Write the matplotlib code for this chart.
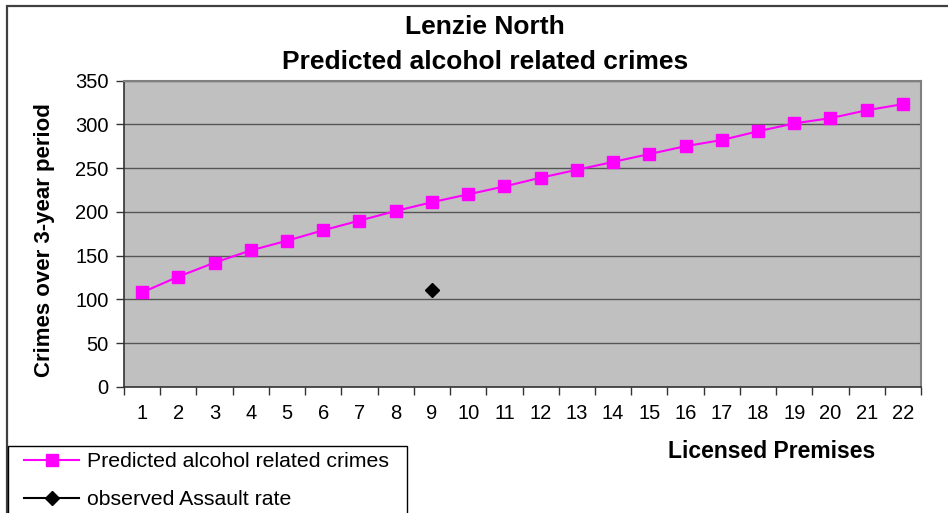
import matplotlib.pyplot as plt
from matplotlib.patches import Rectangle
import numpy as np

premises = list(range(1, 23))
predicted = [108, 126, 142, 156, 167, 179, 190, 201, 211, 220, 229, 239,
             248, 257, 266, 275, 282, 292, 301, 307, 316, 323]
observed_x = [9]
observed_y = [111]

plt.rcParams['font.family'] = ['Liberation Sans', 'DejaVu Sans']

fig = plt.figure(figsize=(9.48, 5.13), dpi=100)
ax = fig.add_axes([124 / 948, 1 - 387 / 513, 797 / 948, 306.5 / 513])

# outer chart frame (runs off right and bottom edges)
fig.patches.append(Rectangle((7 / 948, -0.1), 1.1, 1 - 6 / 513 + 0.1,
                             transform=fig.transFigure, fill=False,
                             edgecolor='#404040', linewidth=1.6))
# legend box (also runs off the bottom)
fig.patches.append(Rectangle((8 / 948, -0.1), 399 / 948, 0.1 + (513 - 446) / 513,
                             transform=fig.transFigure, fill=False,
                             edgecolor='black', linewidth=1.0))

ax.set_facecolor('#C0C0C0')
ax.plot(premises, predicted, color='#FF00FF', marker='s', markersize=9,
        linewidth=1.5, label='Predicted alcohol related crimes', zorder=3)
ax.plot(observed_x, observed_y, color='black', marker='D', markersize=7.5,
        linewidth=1.5, label='observed Assault rate', zorder=3)

ax.set_xlim(0.5, 22.5)
ax.set_ylim(0, 350)
ax.set_yticks(np.arange(0, 351, 50))
ax.set_xticks(premises)
ax.set_xticks(np.arange(0.5, 23, 1), minor=True)
ax.yaxis.grid(True, color='#555555', linewidth=1.0)
ax.set_axisbelow(True)

ax.tick_params(axis='y', direction='out', length=6, width=1, color='#333333',
               labelsize=14.5, pad=5)
ax.tick_params(axis='x', which='major', length=0, labelsize=14.5, pad=12)
ax.tick_params(axis='x', which='minor', direction='out', length=6, width=1,
               color='#333333')

for side in ['top', 'right']:
    ax.spines[side].set_color('#808080')
    ax.spines[side].set_linewidth(1.5)
for side in ['left', 'bottom']:
    ax.spines[side].set_color('#333333')
    ax.spines[side].set_linewidth(1.2)

ax.set_ylabel('Crimes over 3-year period', fontsize=16, fontweight='bold')
ax.yaxis.set_label_coords(-0.087, 0.478)

fig.text(772 / 948, 1 - 451 / 513, 'Licensed Premises', fontsize=16.5,
         fontweight='bold', ha='center', va='center')
fig.text(485 / 948, 1 - 27 / 513, 'Lenzie North', fontsize=19,
         fontweight='bold', ha='center', va='center')
fig.text(485 / 948, 1 - 62 / 513, 'Predicted alcohol related crimes',
         fontsize=19, fontweight='bold', ha='center', va='center')

leg = fig.legend(loc='upper left', bbox_to_anchor=(24 / 948, 1 - 452 / 513),
                 fontsize=15.3, frameon=False, borderpad=0,
                 labelspacing=0.9, handlelength=2.6, handletextpad=0.38,
                 borderaxespad=0)

fig.savefig('out.png', dpi=100)
